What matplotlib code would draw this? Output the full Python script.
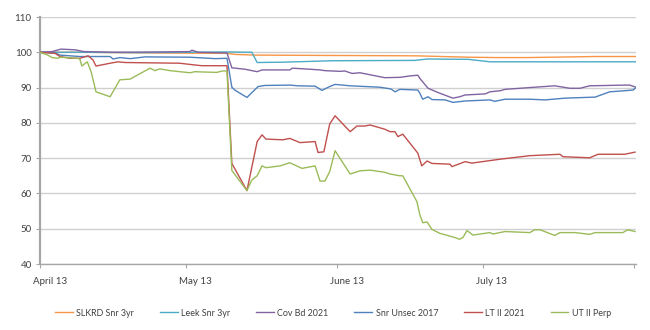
import matplotlib
matplotlib.use("Agg")
import matplotlib.pyplot as plt
from matplotlib.transforms import ScaledTranslation

# x positions are day offsets from April 13
tick_days = [0, 30, 61, 91, 122]
tick_labels = ["April 13", "May 13", "June 13", "July 13", ""]
y_ticks = [40, 50, 60, 70, 80, 90, 100, 110]

slkrd_days = [0, 10, 25, 38.4, 40, 44.1, 60, 77, 88.3, 93.8, 100, 114.0, 122.4]
slkrd_vals = [100, 100, 99.8, 99.7, 99.4, 99.2, 99.1, 99.0, 98.6, 98.5, 98.5, 98.8, 98.8]

leek_days = [0, 10, 20, 30, 38, 43.5, 44.6, 50, 60, 77, 79.5, 88, 92.4, 122.4]
leek_vals = [100, 100, 99.9, 100, 100.1, 100, 97.1, 97.2, 97.6, 97.7, 98.1, 98.0, 97.3, 97.3]

cov_days = [0, 2.5, 4.3, 7.2, 9.0, 15, 25, 30.8, 31.2, 32.5, 38.4, 39.4, 42.1, 44.6, 45.6,
            51.3, 51.8, 55.4, 57.5, 58.5, 61.6, 62.6, 64.1, 65.7, 70.8, 73.9, 76.0, 77.6,
            78.0, 79.7, 82.1, 84.8, 86.2, 87.3, 91.4, 92.4, 94.5, 95.5, 98.6, 99.6, 105.7,
            108.8, 110.9, 112.9, 120.1, 121.1, 122.4]
cov_vals = [100, 100.2, 100.9, 100.7, 100.2, 100.0, 100.1, 100.2, 100.6, 100.0, 99.8, 95.6,
            95.2, 94.5, 95.0, 95.0, 95.5, 95.2, 95.0, 94.8, 94.6, 94.7, 94.0, 94.2, 92.8,
            92.9, 93.3, 93.5, 92.6, 89.8, 88.4, 87.0, 87.4, 87.9, 88.2, 88.8, 89.1, 89.5,
            89.8, 89.9, 90.5, 89.8, 89.8, 90.5, 90.7, 90.7, 90.1]

snr_days = [0, 3.1, 4.1, 8.2, 14.4, 15.0, 16.4, 18.5, 21.6, 30.8, 36.0, 38.4, 39.4, 40.0,
            42.5, 44.8, 46.2, 51.3, 53.0, 56.5, 57.9, 59.5, 60.6, 63.7, 69.8, 72.1, 72.9,
            73.9, 77.6, 78.0, 78.6, 79.7, 80.5, 83.2, 84.8, 87.3, 92.4, 93.4, 95.5, 100.6,
            103.7, 107.8, 114.0, 117.0, 119.1, 121.8, 122.4]
snr_vals = [100, 99.8, 99.2, 98.8, 98.8, 98.1, 98.5, 98.2, 98.7, 98.6, 98.2, 98.3, 90.1,
            89.3, 87.2, 90.3, 90.6, 90.7, 90.5, 90.4, 89.2, 90.3, 90.9, 90.5, 90.1, 89.6,
            88.8, 89.5, 89.3, 88.4, 86.7, 87.4, 86.6, 86.5, 85.8, 86.2, 86.5, 86.1, 86.7,
            86.7, 86.5, 87.0, 87.3, 88.8, 89.0, 89.3, 90.0]

lt_days = [0, 3.1, 4.1, 6.2, 8.2, 9.9, 10.9, 11.5, 14.4, 16.0, 17.5, 28.7, 31.8, 33.2,
           38.4, 39.4, 42.5, 44.6, 45.6, 46.4, 49.9, 51.3, 53.4, 56.5, 57.1, 58.3, 59.5,
           60.6, 63.7, 65.1, 66.7, 67.8, 70.8, 71.9, 72.9, 73.5, 74.5, 77.6, 78.4, 79.5,
           80.5, 84.2, 84.6, 87.3, 88.7, 94.5, 100.6, 106.8, 107.4, 112.9, 114.6, 120.1, 122.2]
lt_vals = [100, 99.7, 98.8, 98.3, 98.3, 99.0, 97.8, 96.1, 96.9, 97.3, 97.1, 96.9, 96.4,
           96.2, 96.2, 68.5, 60.8, 74.7, 76.6, 75.4, 75.2, 75.6, 74.4, 74.7, 71.6, 71.8,
           79.7, 82.0, 77.5, 79.1, 79.1, 79.4, 78.2, 77.5, 77.5, 76.1, 76.8, 71.4, 67.8,
           69.2, 68.5, 68.3, 67.6, 69.0, 68.6, 69.7, 70.7, 71.1, 70.4, 70.1, 71.1, 71.1, 71.7]

ut_days = [0, 1.6, 2.5, 3.7, 4.1, 7.8, 8.2, 8.6, 9.7, 10.5, 11.5, 14.4, 16.4, 18.5, 22.6,
           23.6, 24.6, 26.7, 28.7, 30.8, 31.8, 33.9, 36.3, 37.4, 38.4, 39.4, 42.5, 43.5,
           44.6, 45.6, 46.4, 49.3, 51.3, 53.8, 56.5, 57.5, 58.5, 59.5, 60.6, 63.7, 65.7,
           67.8, 70.8, 71.9, 73.9, 74.5, 77.4, 78.0, 78.6, 79.5, 80.5, 82.1, 85.2, 86.2,
           86.9, 87.7, 88.9, 91.4, 92.4, 93.0, 95.5, 100.6, 101.6, 102.7, 105.7, 106.8,
           109.9, 112.9, 114.0, 119.7, 120.7, 122.2]
ut_vals = [100, 99.2, 98.5, 98.3, 98.6, 98.3, 98.0, 96.1, 97.3, 94.5, 88.8, 87.4, 92.2,
           92.4, 95.5, 94.8, 95.3, 94.8, 94.5, 94.2, 94.5, 94.4, 94.3, 94.7, 94.7, 66.5,
           60.8, 63.8, 65.0, 67.8, 67.3, 67.8, 68.7, 67.1, 67.8, 63.5, 63.5, 66.2, 72.1,
           65.5, 66.4, 66.6, 66.0, 65.5, 65.0, 65.0, 57.7, 54.0, 51.7, 51.9, 49.8, 48.7,
           47.5, 47.0, 47.6, 49.5, 48.2, 48.7, 48.9, 48.5, 49.2, 48.9, 49.7, 49.7, 48.1,
           48.9, 48.9, 48.4, 48.9, 48.9, 49.7, 49.2]

series = [
    ("SLKRD Snr 3yr", slkrd_days, slkrd_vals, "#F79646"),
    ("Leek Snr 3yr", leek_days, leek_vals, "#4BACC6"),
    ("Cov Bd 2021", cov_days, cov_vals, "#8064A2"),
    ("Snr Unsec 2017", snr_days, snr_vals, "#4F81BD"),
    ("LT II 2021", lt_days, lt_vals, "#C0504D"),
    ("UT II Perp", ut_days, ut_vals, "#9BBB59"),
]

plt.rcParams['font.family'] = ['Lato', 'DejaVu Sans']
text_color = "#404040"

fig = plt.figure(figsize=(6.5, 3.3), dpi=100)
ax = fig.add_axes([40/650, 1 - 264/330, (636 - 40)/650, (264 - 17)/330])

for name, d, v, c in series:
    ax.plot(d, v, color=c, lw=1.0, label=name, zorder=3)

ax.set_xlim(0, 122.4)
ax.set_ylim(40, 110)
ax.set_yticks(y_ticks)
ax.set_xticks(tick_days)
ax.set_xticklabels(tick_labels)
ax.grid(axis='y', color='#d0d0d0', lw=1.0, zorder=0)
ax.set_axisbelow(True)

for s in ['top', 'right']:
    ax.spines[s].set_visible(False)
ax.spines['left'].set_color('#a6a6a6')
ax.spines['left'].set_linewidth(1.6)
ax.spines['bottom'].set_color('#a6a6a6')
ax.spines['bottom'].set_linewidth(1.0)

ax.tick_params(axis='y', length=3, width=0.8, color='#a6a6a6', labelsize=7, labelcolor=text_color, pad=3)
ax.tick_params(axis='x', length=3, width=0.8, color='#a6a6a6', labelsize=7, labelcolor=text_color, pad=6)

offset = ScaledTranslation(-7/100, 0, fig.dpi_scale_trans)
for lab in ax.get_xticklabels():
    lab.set_horizontalalignment('left')
    lab.set_transform(lab.get_transform() + offset)

leg = fig.legend(loc='center', bbox_to_anchor=(333/650, 1 - 313/330), ncol=6, frameon=False,
                 fontsize=6.4, handlelength=2.0, handletextpad=0.4, columnspacing=2.9)
for t in leg.get_texts():
    t.set_color(text_color)

fig.savefig("out.png", dpi=100)
